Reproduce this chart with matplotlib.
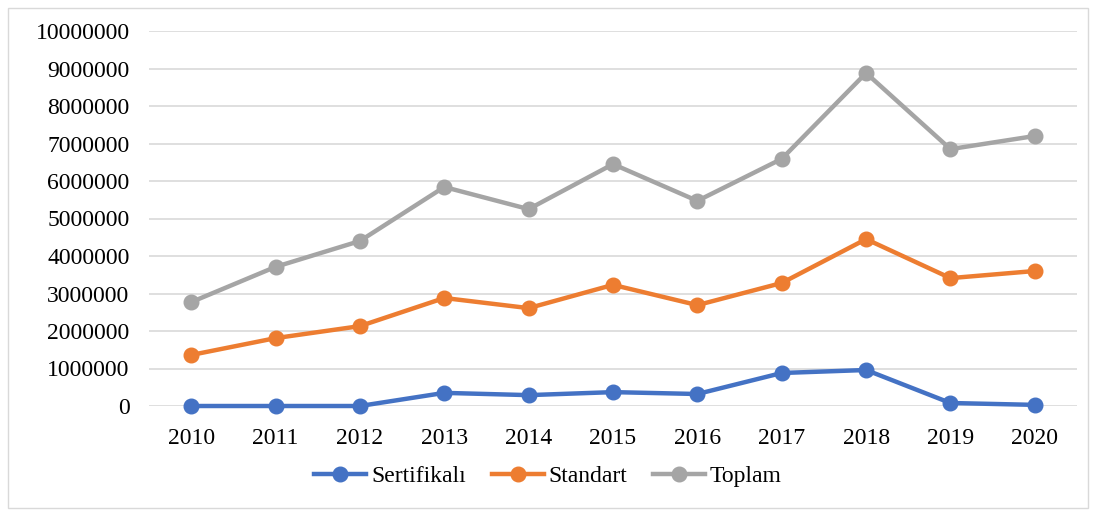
import matplotlib.pyplot as plt
from matplotlib.patches import Rectangle

years = ['2010', '2011', '2012', '2013', '2014', '2015', '2016', '2017', '2018', '2019', '2020']
sertifikali = [0, 0, 0, 350000, 290000, 370000, 320000, 880000, 960000, 80000, 30000]
standart = [1360000, 1810000, 2130000, 2880000, 2610000, 3230000, 2690000, 3280000, 4450000, 3410000, 3600000]
toplam = [2770000, 3710000, 4400000, 5840000, 5250000, 6450000, 5470000, 6590000, 8880000, 6850000, 7200000]

plt.rcParams['font.family'] = ['Liberation Serif', 'DejaVu Serif']

fig = plt.figure(figsize=(10.96, 5.14), dpi=100)
ax = fig.add_axes([149 / 1096, 108 / 514, 928 / 1096, 375 / 514])

x = range(len(years))
ax.plot(x, sertifikali, color='#4472C4', lw=3.2, marker='o', ms=10.5, label='Sertifikalı', clip_on=False)
ax.plot(x, standart, color='#ED7D31', lw=3.2, marker='o', ms=10.5, label='Standart', clip_on=False)
ax.plot(x, toplam, color='#A5A5A5', lw=3.2, marker='o', ms=10.5, label='Toplam', clip_on=False)

ax.set_xlim(-0.5, len(years) - 0.5)
ax.set_ylim(0, 10000000)
ax.set_yticks(range(0, 10000001, 1000000))
ax.set_yticklabels([str(v) for v in range(0, 10000001, 1000000)])
ax.set_xticks(list(x))
ax.set_xticklabels(years)
ax.grid(axis='y', color='#D9D9D9', lw=1.2)
ax.set_axisbelow(True)
for s in ax.spines.values():
    s.set_visible(False)
ax.tick_params(length=0, labelsize=17)
ax.tick_params(axis='x', pad=16)
ax.tick_params(axis='y', pad=14)

fig.legend(loc='center', bbox_to_anchor=(0.5, 38 / 514), ncol=3, frameon=False,
           fontsize=17, handlelength=2.2, columnspacing=1.1, handletextpad=0.2)

fig.patches.append(Rectangle((8 / 1096, 6 / 514), 1080 / 1096, 500 / 514, transform=fig.transFigure,
                             fill=False, edgecolor='#D9D9D9', lw=1))

fig.savefig('out.png', dpi=100)
